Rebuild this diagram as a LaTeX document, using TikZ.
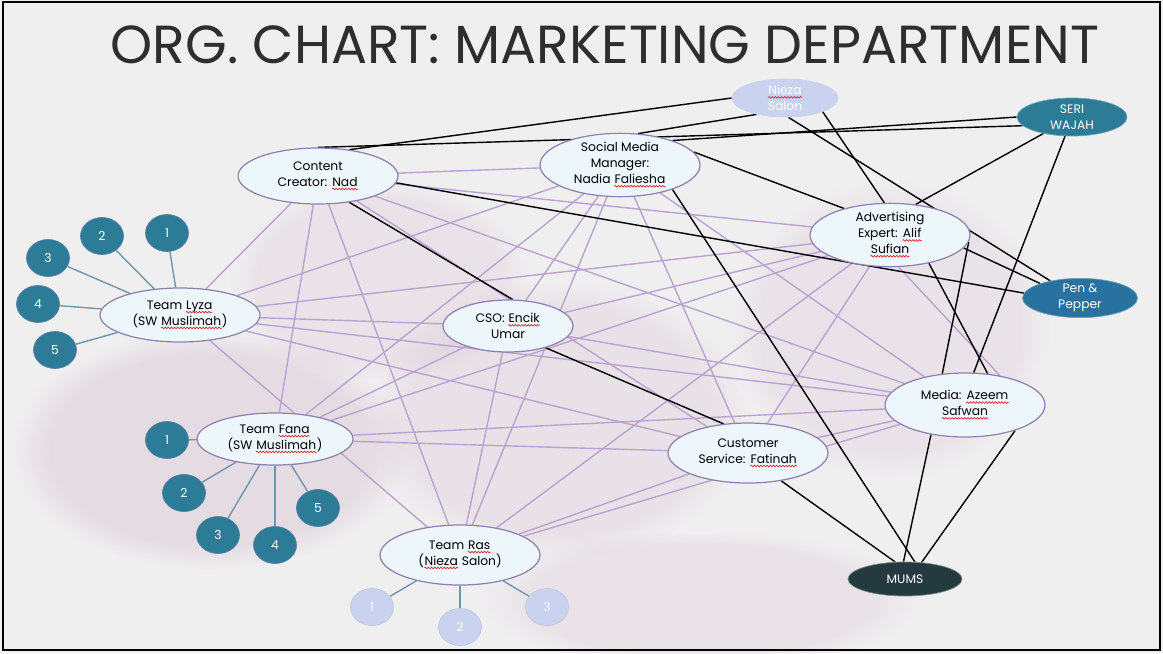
\documentclass[tikz,border=0pt]{standalone}
\usepackage{fontspec}
\setmainfont{Poppins}
\usetikzlibrary{shapes.geometric,fadings,backgrounds,decorations.pathmorphing}

\definecolor{paper}{HTML}{F0EFF0}
\definecolor{mauve}{HTML}{CDB2C8}
\definecolor{bubble}{HTML}{ECF6FB}
\definecolor{rim}{HTML}{8E80B0}
\definecolor{lilac}{HTML}{BBA2D2}
\definecolor{seablue}{HTML}{2D7C97}
\definecolor{spokeblue}{HTML}{7096AE}
\definecolor{ghost}{HTML}{C9D2EE}
\definecolor{slate}{HTML}{243A3F}
\definecolor{squig}{HTML}{D62B2B}
\definecolor{inkgrey}{HTML}{2E2E2E}

% red spell-check wave under a word
\newcommand\sq[2][black]{\tikz[baseline=(w.base)]{%
  \node[shape=rectangle, draw=none, fill=none, minimum width=0pt, minimum height=0pt, inner sep=0pt, text=#1] (w) {#2};
  \draw[squig, line width=0.4pt, decorate, decoration={snake, amplitude=0.45pt, segment length=1.8pt}]
    ([yshift=-1.5pt]w.base west) -- ([yshift=-1.5pt]w.base east);}}

\begin{document}
\begin{tikzpicture}[x=0.02cm,y=-0.02cm]
  \tikzstyle{bub}=[ellipse, draw=rim, line width=0.7pt, fill=bubble, inner sep=0pt, align=center, font=\fontsize{7}{9}\selectfont]
  \tikzstyle{firm}=[ellipse, draw=seablue!70!white, fill=seablue, text=white, inner sep=0pt, align=center, font=\fontsize{7}{9}\selectfont]
  \tikzstyle{dot}=[ellipse, draw=rim!50!seablue, fill=seablue, text=white, minimum width=0.86cm, minimum height=0.74cm, inner sep=0pt, font=\fontsize{7}{7}\selectfont]
  \tikzstyle{pale}=[dot, fill=ghost, draw=ghost!85!rim]
  \tikzstyle{link}=[lilac, line width=0.8pt]
  \tikzstyle{tie}=[black, line width=0.8pt]
  \tikzstyle{spoke}=[spokeblue, line width=0.8pt]
  \tikzstyle{cloud}=[mauve, path fading=circle with fuzzy edge 20 percent]

  \useasboundingbox (0,0) rectangle (1163,653);

  % titulo
  \node[font=\fontsize{30.5}{30.5}\selectfont, text=inkgrey] (title) at (605,45) {ORG. CHART: MARKETING DEPARTMENT};

  % staff
  \node[bub, minimum width=3.2cm, minimum height=1.12cm] (cc) at (318,176) {Content\\Creator: \sq{Nad}};
  \node[bub, minimum width=3.2cm, minimum height=1.24cm] (sm) at (620,165) {Social Media\\Manager:\\Nadia \sq{Faliesha}};
  \node[bub, minimum width=3.2cm, minimum height=1.2cm] (adv) at (890,235) {Advertising\\Expert: \sq{Alif}\\\sq{Sufian}};
  \node[bub, minimum width=3.2cm, minimum height=1.08cm] (lyza) at (180,315) {Team \sq{Lyza}\\(SW \sq{Muslimah})};
  \node[bub, minimum width=2.6cm, minimum height=1.04cm] (cso) at (508,326) {CSO: \sq{Encik}\\Umar};
  \node[bub, minimum width=3.12cm, minimum height=1.04cm] (fana) at (275,439) {Team \sq{Fana}\\(SW \sq{Muslimah})};
  \node[bub, minimum width=3.2cm, minimum height=1.2cm] (cs) at (748,453) {Customer\\Service: \sq{Fatinah}};
  \node[bub, minimum width=3.2cm, minimum height=1.28cm] (media) at (965,405) {Media: \sq{Azeem}\\\sq{Safwan}};
  \node[bub, minimum width=3.2cm, minimum height=1.2cm] (ras) at (460,555) {Team \sq{Ras}\\(\sq{Nieza} Salon)};

  % partners
  \node[firm, fill=ghost, draw=ghost, minimum width=2.12cm, minimum height=0.76cm] (nieza) at (785,98) {\sq[white]{Nieza}\\Salon};
  \node[firm, minimum width=2.2cm, minimum height=0.76cm] (seri) at (1072,117) {SERI\\WAJAH};
  \node[firm, fill=seablue!92!blue, minimum width=2.3cm, minimum height=0.74cm] (pen) at (1080,298) {Pen \&\\Pepper};
  \node[firm, fill=slate, draw=slate!60!white, minimum width=2.28cm, minimum height=0.68cm] (mums) at (905,579) {MUMS};

  % members
  \node[dot] (l1) at (167,233) {1};
  \node[dot] (l2) at (102,236) {2};
  \node[dot] (l3) at (48,258) {3};
  \node[dot] (l4) at (38,304) {4};
  \node[dot] (l5) at (55,350) {5};
  \node[dot] (f1) at (167,440) {1};
  \node[dot] (f2) at (184,493) {2};
  \node[dot] (f3) at (218,535) {3};
  \node[dot] (f4) at (275,545) {4};
  \node[dot] (f5) at (318,508) {5};
  \node[pale] (r1) at (372,607) {1};
  \node[pale] (r2) at (460,627) {2};
  \node[pale] (r3) at (547,607) {3};

  \begin{scope}[on background layer]
    % fundo
    \fill[paper] (0,0) rectangle (1163,653);
    \fill[cloud, opacity=.3] (210,450) ellipse [x radius=200, y radius=120];
    \fill[cloud, opacity=.22] (560,420) ellipse [x radius=190, y radius=140];
    \fill[cloud, opacity=.2] (890,330) ellipse [x radius=160, y radius=150];
    \fill[cloud, opacity=.2] (380,280) ellipse [x radius=150, y radius=100];
    \fill[cloud, opacity=.18] (700,600) ellipse [x radius=220, y radius=70];

    % ligacoes internas
    \foreach \a/\b in {cc/sm,cc/adv,cc/lyza,cc/fana,cc/cs,cc/media,cc/ras,
                       sm/lyza,sm/cso,sm/fana,sm/cs,sm/media,sm/ras,
                       adv/lyza,adv/cso,adv/fana,adv/cs,adv/ras,
                       lyza/cso,lyza/cs,lyza/media,lyza/ras,
                       cso/fana,cso/media,cso/ras,
                       fana/cs,fana/media,
                       cs/media,cs/ras,media/ras}
      \draw[link] (\a) -- (\b);
    \draw[link] (adv.-75) -- (media.40);

    % membros das equipas
    \foreach \i in {1,...,5} {
      \draw[spoke] (l\i) -- (lyza);
      \draw[spoke] (f\i) -- (fana);
    }
    \foreach \i in {1,2,3}
      \draw[spoke] (r\i) -- (ras);

    % parceiros
    \draw[tie] (nieza.west) -- (cc.40);
    \draw[tie] (nieza.-150) -- (sm.60);
    \draw[tie] (nieza.-20) -- (adv.100);
    \draw[tie] (nieza.-80) -- (pen.150);
    \draw[tie] (seri.190) -- (cc.north);
    \draw[tie] (seri.west) -- (sm.25);
    \draw[tie] (seri.-150) -- (adv.50);
    \draw[tie] (seri.-110) -- (media.75);
    \draw[tie] (sm.10) -- (adv.150);
    \draw[tie] (sm.-25) -- (mums.60);
    \draw[tie] (cc.-5) -- (pen.175);
    \draw[tie] (cc.-40) -- (cso.80);
    \draw[tie] (cso.-30) -- (cs.130);
    \draw[tie] (adv.-10) -- (pen.160);
    \draw[tie] (adv.-5) -- (media.126);
    \draw[tie] (adv.-36) -- (media.54);
    \draw[tie] (media.-139) -- (mums.95);
    \draw[tie] (media.-27) -- (mums.45);
    \draw[tie] (cs.-40) -- (mums.120);
  \end{scope}

  % moldura
  \draw[line width=1.1pt] (3,2) rectangle (1160,650);
\end{tikzpicture}
\end{document}
